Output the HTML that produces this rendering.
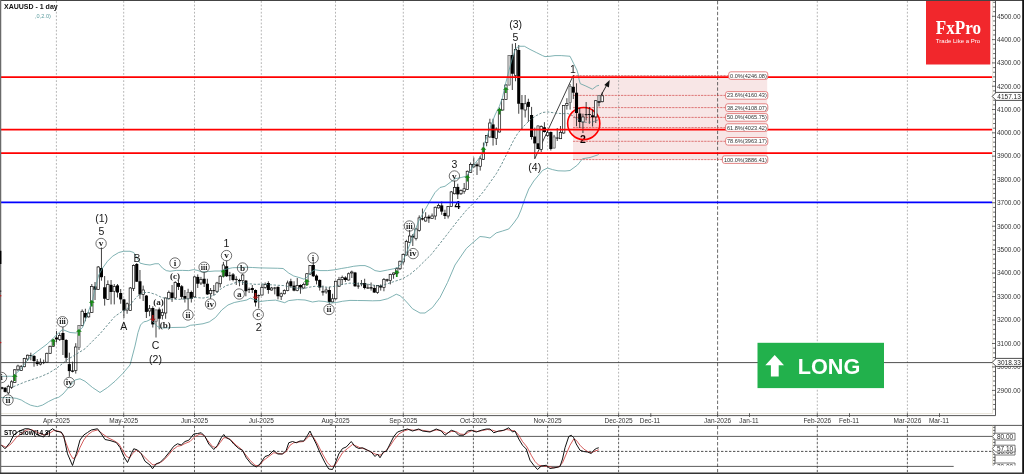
<!DOCTYPE html>
<html lang="en"><head><meta charset="utf-8"><title>XAUUSD - 1 day</title>
<style>html,body{margin:0;padding:0;background:#fff}body{width:1024px;height:474px;overflow:hidden}svg{display:block}text{font-family:"Liberation Sans",Arial,sans-serif;fill:#222}.ax{font-size:6.5px;fill:#333}.dt{font-size:6.5px;fill:#333;text-anchor:middle}.wv{font-size:10.5px;text-anchor:middle;fill:#151515}.cl{font-family:"Liberation Serif","Times New Roman",serif;font-weight:bold;font-size:9.2px;text-anchor:middle;fill:#222}.pl{font-family:"Liberation Serif","Times New Roman",serif;font-weight:bold;font-size:9px;text-anchor:middle;fill:#222}.fb{font-size:5.6px;fill:#333;text-anchor:end}</style></head><body>
<svg width="1024" height="474" viewBox="0 0 1024 474">
<rect width="1024" height="474" fill="#fff"/>
<rect x="573" y="75.6" width="194.2" height="84" fill="#f8e6e6"/>
<g stroke="#a2a2a2" stroke-width="0.8" stroke-dasharray="1.8 1.8" fill="none">
<path d="M56.4 1V414.5"/>
<path d="M123.7 1V414.5"/>
<path d="M194.5 1V414.5"/>
<path d="M261.3 1V414.5"/>
<path d="M335.5 1V414.5"/>
<path d="M403.3 1V414.5"/>
<path d="M473.4 1V414.5"/>
<path d="M547.6 1V414.5"/>
<path d="M618.6 1V414.5"/>
<path d="M817.3 1V414.5"/>
<path d="M907.4 1V414.5"/>
</g>
<g stroke="#3c3c3c" stroke-width="0.8" stroke-dasharray="2.4 1.6" fill="none">
<path d="M56.4 425.8V472.5"/>
<path d="M123.7 425.8V472.5"/>
<path d="M194.5 425.8V472.5"/>
<path d="M261.3 425.8V472.5"/>
<path d="M335.5 425.8V472.5"/>
<path d="M403.3 425.8V472.5"/>
<path d="M473.4 425.8V472.5"/>
<path d="M547.6 425.8V472.5"/>
<path d="M618.6 425.8V472.5"/>
<path d="M817.3 425.8V472.5"/>
<path d="M907.4 425.8V472.5"/>
</g>
<path d="M717.6 1V414.5M717.6 425.8V472.5" stroke="#444" stroke-width="0.8" stroke-dasharray="3.4 2" fill="none"/>
<text class="wv" x="582.8" y="143.2" style="font-weight:bold;fill:#000">2</text>
<text class="wv" x="457.3" y="209" style="font-weight:bold;fill:#000">4</text>
<g stroke="#d24848" stroke-width="0.7" stroke-dasharray="2.3 0.9" fill="none">
<path d="M573 75.6H767.8"/>
<path d="M573 95.4H767.8"/>
<path d="M573 107.6H767.8"/>
<path d="M573 117.4H767.8"/>
<path d="M573 127.6H767.8"/>
<path d="M573 141.3H767.8"/>
<path d="M573 159.6H767.8"/>
</g>
<path d="M534.75 158.75L573 76" stroke="#111" stroke-width="0.8" fill="none"/>
<circle cx="583.75" cy="123.55" r="16.1" fill="rgba(255,0,0,0.10)" stroke="#ff0000" stroke-width="1.6"/>
<g stroke="#111" stroke-width="0.8">
<path d="M1.93 386.8V389.5"/>
<path d="M5.14 387V392.5"/>
<path d="M8.35 384.8V394.4"/>
<path d="M11.56 380.3V388.9"/>
<path d="M14.77 369V383"/>
<path d="M17.98 364.7V371"/>
<path d="M21.19 365V371"/>
<path d="M24.4 357.8V367.3"/>
<path d="M27.61 354.6V361"/>
<path d="M30.82 352.7V360.3"/>
<path d="M34.03 355.2V366.7"/>
<path d="M37.24 359V366"/>
<path d="M40.45 358.4V365.4"/>
<path d="M43.66 359.7V364.1"/>
<path d="M46.87 352.7V362.9"/>
<path d="M50.08 345.7V354"/>
<path d="M53.29 339V347"/>
<path d="M56.5 331V342.5"/>
<path d="M59.71 333V341"/>
<path d="M62.92 327V355"/>
<path d="M66.13 339V362"/>
<path d="M69.34 352.7V376.8"/>
<path d="M72.55 361.6V372.4"/>
<path d="M75.76 343.2V373.6"/>
<path d="M78.97 325V350"/>
<path d="M82.18 309.4V326.25"/>
<path d="M85.39 308.75V321.25"/>
<path d="M88.6 312.5V317.5"/>
<path d="M91.81 284V313"/>
<path d="M95.02 282V300"/>
<path d="M98.23 266V290"/>
<path d="M101.44 247.5V280.7"/>
<path d="M104.65 276V305.6"/>
<path d="M107.86 280.4V300"/>
<path d="M111.07 280V304.4"/>
<path d="M114.28 284V304.4"/>
<path d="M117.49 284V297.5"/>
<path d="M120.7 289V303.75"/>
<path d="M123.91 298.75V318"/>
<path d="M127.12 302.5V313.75"/>
<path d="M130.33 287V311"/>
<path d="M133.54 264.4V291"/>
<path d="M136.75 263V282"/>
<path d="M139.96 270V298.75"/>
<path d="M143.17 285.6V301"/>
<path d="M146.38 295V318"/>
<path d="M149.59 305V316.25"/>
<path d="M152.8 306.25V327.5"/>
<path d="M156.01 309.4V337.5"/>
<path d="M159.22 307.5V329.4"/>
<path d="M162.43 308.75V319.4"/>
<path d="M165.64 297.5V318.75"/>
<path d="M168.85 290.6V299.4"/>
<path d="M172.06 285V301.9"/>
<path d="M175.27 281.25V299"/>
<path d="M178.48 280V290"/>
<path d="M181.69 285V299.4"/>
<path d="M184.9 290V302.5"/>
<path d="M188.11 288.75V309.4"/>
<path d="M191.32 290.6V302.5"/>
<path d="M194.53 276.25V297.5"/>
<path d="M197.74 274.4V288"/>
<path d="M200.95 276.9V285"/>
<path d="M204.16 272V287"/>
<path d="M207.37 278.75V295"/>
<path d="M210.58 288V298.75"/>
<path d="M213.79 285V295.6"/>
<path d="M217 281.9V293"/>
<path d="M220.21 275V287.5"/>
<path d="M223.42 261.9V277.5"/>
<path d="M226.63 260.6V277"/>
<path d="M229.84 271.9V280.6"/>
<path d="M233.05 273V281.25"/>
<path d="M236.26 276.25V285"/>
<path d="M239.47 278.75V286.25"/>
<path d="M242.68 273.75V285"/>
<path d="M245.89 280V296.25"/>
<path d="M249.1 287.5V293"/>
<path d="M252.31 285V293"/>
<path d="M255.52 289.4V306.5"/>
<path d="M258.73 294.5V308.5"/>
<path d="M261.94 283.75V295.6"/>
<path d="M265.15 282.5V288.75"/>
<path d="M268.36 281.25V293.75"/>
<path d="M271.57 286.9V290.6"/>
<path d="M274.78 286.9V294.4"/>
<path d="M277.99 286.25V299.4"/>
<path d="M281.2 292.5V300"/>
<path d="M284.41 289.4V294.4"/>
<path d="M287.62 280.6V291.25"/>
<path d="M290.83 278.75V287.5"/>
<path d="M294.04 281.25V291.25"/>
<path d="M297.25 278V291.25"/>
<path d="M300.46 284.4V293.75"/>
<path d="M303.67 282.5V288.75"/>
<path d="M306.88 273V285.6"/>
<path d="M310.09 265V275"/>
<path d="M313.3 261.25V277"/>
<path d="M316.51 274.4V284.4"/>
<path d="M319.72 279.4V290.6"/>
<path d="M322.93 285.6V295.6"/>
<path d="M326.14 287.5V293.75"/>
<path d="M329.35 286.9V303.75"/>
<path d="M332.56 293.75V302.5"/>
<path d="M335.77 280.6V300"/>
<path d="M338.98 276.9V286.9"/>
<path d="M342.19 275.6V285"/>
<path d="M345.4 276.25V281.9"/>
<path d="M348.61 272.5V280.6"/>
<path d="M351.82 270.6V278"/>
<path d="M355.03 271.9V286.9"/>
<path d="M358.24 282.5V288.75"/>
<path d="M361.45 280V286.25"/>
<path d="M364.66 278.75V289.4"/>
<path d="M367.87 283.75V288.75"/>
<path d="M371.08 282.5V290.6"/>
<path d="M374.29 285V293"/>
<path d="M377.5 285V293.75"/>
<path d="M380.71 284.4V290.6"/>
<path d="M383.92 278V291.25"/>
<path d="M387.13 278.75V281.9"/>
<path d="M390.34 273.75V284.4"/>
<path d="M393.55 272.5V278.75"/>
<path d="M396.76 267.5V274.4"/>
<path d="M399.97 260.6V270"/>
<path d="M403.18 253.75V264.4"/>
<path d="M406.39 239.75V255.5"/>
<path d="M409.6 230V243"/>
<path d="M412.81 234V246"/>
<path d="M416.02 227.9V240.4"/>
<path d="M419.23 215.4V231.6"/>
<path d="M422.44 208.5V220.4"/>
<path d="M425.65 212.25V221.6"/>
<path d="M428.86 214.75V222.9"/>
<path d="M432.07 213.5V219"/>
<path d="M435.28 206.6V219.75"/>
<path d="M438.49 203.5V208.5"/>
<path d="M441.7 201.6V214.75"/>
<path d="M444.91 209.75V219"/>
<path d="M448.12 206V218.5"/>
<path d="M451.33 191V207"/>
<path d="M454.54 180.6V194.4"/>
<path d="M457.75 183.75V199"/>
<path d="M460.96 189.4V195"/>
<path d="M464.17 183V193.75"/>
<path d="M467.38 170.6V190"/>
<path d="M470.59 162.5V173"/>
<path d="M473.8 157.5V167.5"/>
<path d="M477.01 162.5V175"/>
<path d="M480.22 156.25V170.6"/>
<path d="M483.43 142.5V160"/>
<path d="M486.64 135V146.25"/>
<path d="M489.85 118.75V137.5"/>
<path d="M493.06 118.75V145.6"/>
<path d="M496.27 127.3V145"/>
<path d="M499.48 107.5V132.5"/>
<path d="M502.69 98.75V110.6"/>
<path d="M505.9 84V100"/>
<path d="M509.11 55V85.6"/>
<path d="M512.32 43.75V90"/>
<path d="M515.53 43V81.25"/>
<path d="M518.74 45V113.75"/>
<path d="M521.95 95V130"/>
<path d="M525.16 95V117.5"/>
<path d="M528.37 98.75V121.9"/>
<path d="M531.58 106.9V139.6"/>
<path d="M534.79 127.6V158.75"/>
<path d="M538 125V149"/>
<path d="M541.21 125.4V152"/>
<path d="M544.42 122.2V132.7"/>
<path d="M547.63 130V137"/>
<path d="M550.84 131.4V150.5"/>
<path d="M554.05 134.9V148.5"/>
<path d="M557.26 128V141"/>
<path d="M560.47 126V139"/>
<path d="M563.68 105V133.75"/>
<path d="M566.89 98.2V109.6"/>
<path d="M570.1 84V109.6"/>
<path d="M573.31 75.1V99"/>
<path d="M576.52 83.3V126.25"/>
<path d="M579.73 108V128"/>
<path d="M582.94 113.7V133"/>
<path d="M586.15 102V120.5"/>
<path d="M589.36 107V123.8"/>
<path d="M592.57 109.6V126.5"/>
<path d="M595.78 100V123"/>
<path d="M598.99 95V106.4"/>
<path d="M602.2 92.3V102.3"/>
</g>
<g stroke="#111" stroke-width="0.7">
<rect x="0.38" y="387.2" width="3.1" height="1.6" fill="#000" stroke="none"/>
<rect x="3.59" y="387.8" width="3.1" height="4.1" fill="#000" stroke="none"/>
<rect x="7.15" y="386.3" width="2.4" height="6.6" fill="#fff"/>
<rect x="10.36" y="381.8" width="2.4" height="5.5" fill="#fff"/>
<rect x="13.57" y="369.8" width="2.4" height="12.7" fill="#fff"/>
<rect x="16.78" y="366" width="2.4" height="3.8" fill="#fff"/>
<rect x="19.99" y="366.7" width="2.4" height="3.8" fill="#fff"/>
<rect x="23.2" y="358.4" width="2.4" height="8.3" fill="#fff"/>
<rect x="26.41" y="355.2" width="2.4" height="3.8" fill="#fff"/>
<path d="M29.32 355.6H32.32" stroke-width="1"/>
<rect x="32.48" y="355.9" width="3.1" height="5.1" fill="#000" stroke="none"/>
<rect x="35.69" y="361.6" width="3.1" height="2.5" fill="#000" stroke="none"/>
<rect x="39.25" y="362.2" width="2.4" height="1.9" fill="#fff"/>
<path d="M42.16 362.55H45.16" stroke-width="1"/>
<rect x="45.67" y="353.3" width="2.4" height="8.9" fill="#fff"/>
<rect x="48.88" y="346.3" width="2.4" height="7" fill="#fff"/>
<rect x="52.09" y="340" width="2.4" height="6.3" fill="#fff"/>
<rect x="54.95" y="337.5" width="3.1" height="1.9" fill="#000" stroke="none"/>
<rect x="58.51" y="335.6" width="2.4" height="3.8" fill="#fff"/>
<rect x="61.37" y="333" width="3.1" height="7" fill="#000" stroke="none"/>
<rect x="64.58" y="340" width="3.1" height="17.8" fill="#000" stroke="none"/>
<rect x="67.79" y="364.1" width="3.1" height="7" fill="#000" stroke="none"/>
<rect x="71" y="370.5" width="3.1" height="1.2" fill="#000" stroke="none"/>
<rect x="74.56" y="347" width="2.4" height="23.5" fill="#fff"/>
<rect x="77.77" y="325.6" width="2.4" height="21.9" fill="#cfcfcf" stroke="#666"/>
<rect x="80.98" y="311.25" width="2.4" height="14.35" fill="#fff"/>
<rect x="83.84" y="313" width="3.1" height="4.5" fill="#000" stroke="none"/>
<rect x="87.4" y="313" width="2.4" height="3.9" fill="#fff"/>
<rect x="90.61" y="286.4" width="2.4" height="26.1" fill="#fff"/>
<rect x="93.47" y="286.4" width="3.1" height="3.4" fill="#000" stroke="none"/>
<rect x="97.03" y="267" width="2.4" height="22.5" fill="#fff"/>
<rect x="99.89" y="268" width="3.1" height="9.2" fill="#000" stroke="none"/>
<rect x="103.1" y="287.3" width="3.1" height="11.45" fill="#000" stroke="none"/>
<rect x="106.66" y="284.5" width="2.4" height="14.9" fill="#fff"/>
<rect x="109.52" y="284.8" width="3.1" height="7.2" fill="#000" stroke="none"/>
<rect x="113.08" y="286.4" width="2.4" height="4.85" fill="#fff"/>
<rect x="115.94" y="285.4" width="3.1" height="7.1" fill="#000" stroke="none"/>
<rect x="119.15" y="293" width="3.1" height="6.4" fill="#000" stroke="none"/>
<rect x="122.36" y="299.4" width="3.1" height="11.2" fill="#000" stroke="none"/>
<rect x="125.92" y="303.75" width="2.4" height="6.25" fill="#fff"/>
<rect x="129.13" y="288" width="2.4" height="22.6" fill="#fff"/>
<rect x="132.34" y="265.5" width="2.4" height="23" fill="#fff"/>
<rect x="135.2" y="264" width="3.1" height="17.7" fill="#000" stroke="none"/>
<rect x="138.41" y="281.25" width="3.1" height="13.15" fill="#000" stroke="none"/>
<rect x="141.97" y="290" width="2.4" height="4.4" fill="#fff"/>
<rect x="144.83" y="295.6" width="3.1" height="16.3" fill="#000" stroke="none"/>
<rect x="148.39" y="308.75" width="2.4" height="2.25" fill="#fff"/>
<rect x="151.25" y="308" width="3.1" height="16.4" fill="#000" stroke="none"/>
<rect x="154.81" y="310" width="2.4" height="11.25" fill="#cfcfcf" stroke="#666"/>
<rect x="157.67" y="309.4" width="3.1" height="9.35" fill="#000" stroke="none"/>
<rect x="161.23" y="312.5" width="2.4" height="3.1" fill="#fff"/>
<rect x="164.44" y="298" width="2.4" height="15" fill="#fff"/>
<rect x="167.65" y="292.5" width="2.4" height="6.25" fill="#fff"/>
<rect x="170.51" y="292.5" width="3.1" height="5.5" fill="#000" stroke="none"/>
<rect x="174.07" y="282.5" width="2.4" height="15.5" fill="#fff"/>
<rect x="176.93" y="283" width="3.1" height="3.9" fill="#000" stroke="none"/>
<rect x="180.14" y="286.25" width="3.1" height="10.65" fill="#000" stroke="none"/>
<rect x="183.35" y="296" width="3.1" height="2.75" fill="#000" stroke="none"/>
<rect x="186.91" y="292.5" width="2.4" height="6.25" fill="#cfcfcf" stroke="#666"/>
<rect x="189.77" y="292" width="3.1" height="6.75" fill="#000" stroke="none"/>
<rect x="193.33" y="276.9" width="2.4" height="20" fill="#fff"/>
<rect x="196.19" y="276.9" width="3.1" height="6.85" fill="#000" stroke="none"/>
<rect x="199.75" y="279.4" width="2.4" height="3.6" fill="#fff"/>
<rect x="202.61" y="278.75" width="3.1" height="5" fill="#000" stroke="none"/>
<rect x="205.82" y="283.75" width="3.1" height="10.65" fill="#000" stroke="none"/>
<rect x="209.38" y="290.6" width="2.4" height="3.15" fill="#fff"/>
<path d="M212.29 290.65H215.29" stroke-width="1"/>
<rect x="215.8" y="283" width="2.4" height="8.25" fill="#fff"/>
<rect x="219.01" y="276.25" width="2.4" height="7.5" fill="#fff"/>
<rect x="222.22" y="265" width="2.4" height="11.25" fill="#fff"/>
<rect x="225.08" y="266.25" width="3.1" height="10" fill="#000" stroke="none"/>
<path d="M228.34 275.65H231.34" stroke-width="1"/>
<rect x="231.5" y="274.4" width="3.1" height="5.6" fill="#000" stroke="none"/>
<path d="M234.76 279.4H237.76" stroke-width="1"/>
<rect x="237.92" y="280" width="3.1" height="1.25" fill="#000" stroke="none"/>
<rect x="241.48" y="275" width="2.4" height="5.6" fill="#fff"/>
<rect x="244.34" y="280.6" width="3.1" height="10.65" fill="#000" stroke="none"/>
<path d="M247.6 289.4H250.6" stroke-width="1"/>
<rect x="250.76" y="288" width="3.1" height="2" fill="#000" stroke="none"/>
<rect x="253.97" y="290" width="3.1" height="12.5" fill="#000" stroke="none"/>
<path d="M257.23 295.6H260.23" stroke-width="1"/>
<rect x="260.74" y="287.5" width="2.4" height="7.5" fill="#fff"/>
<rect x="263.95" y="284.4" width="2.4" height="3.1" fill="#fff"/>
<rect x="266.81" y="283" width="3.1" height="7" fill="#000" stroke="none"/>
<rect x="270.37" y="288" width="2.4" height="2" fill="#fff"/>
<path d="M273.28 288.05H276.28" stroke-width="1"/>
<rect x="276.44" y="286.9" width="3.1" height="9.35" fill="#000" stroke="none"/>
<rect x="280" y="293.75" width="2.4" height="2.5" fill="#fff"/>
<rect x="283.21" y="290.6" width="2.4" height="3.15" fill="#fff"/>
<rect x="286.42" y="283" width="2.4" height="7.6" fill="#fff"/>
<rect x="289.28" y="281.25" width="3.1" height="5" fill="#000" stroke="none"/>
<rect x="292.49" y="285.6" width="3.1" height="5" fill="#000" stroke="none"/>
<rect x="296.05" y="285.6" width="2.4" height="5" fill="#fff"/>
<rect x="298.91" y="285" width="3.1" height="2.5" fill="#000" stroke="none"/>
<rect x="302.47" y="284.4" width="2.4" height="3.6" fill="#fff"/>
<rect x="305.68" y="273.75" width="2.4" height="10.95" fill="#fff"/>
<rect x="308.89" y="265.6" width="2.4" height="8.4" fill="#fff"/>
<rect x="311.75" y="265" width="3.1" height="11.25" fill="#000" stroke="none"/>
<rect x="314.96" y="275.6" width="3.1" height="5" fill="#000" stroke="none"/>
<rect x="318.17" y="280" width="3.1" height="7.5" fill="#000" stroke="none"/>
<rect x="321.38" y="291.25" width="3.1" height="1.25" fill="#000" stroke="none"/>
<rect x="324.94" y="290" width="2.4" height="1.9" fill="#fff"/>
<rect x="327.8" y="290" width="3.1" height="11.9" fill="#000" stroke="none"/>
<rect x="331.36" y="298.75" width="2.4" height="3.15" fill="#fff"/>
<rect x="334.57" y="281.25" width="2.4" height="17.5" fill="#fff"/>
<rect x="337.78" y="279.4" width="2.4" height="6.85" fill="#fff"/>
<rect x="340.99" y="277.5" width="2.4" height="1.9" fill="#fff"/>
<rect x="343.85" y="277.5" width="3.1" height="2.5" fill="#000" stroke="none"/>
<rect x="347.41" y="273.75" width="2.4" height="6.25" fill="#fff"/>
<rect x="350.62" y="272" width="2.4" height="1" fill="#fff"/>
<rect x="353.48" y="272.5" width="3.1" height="13.75" fill="#000" stroke="none"/>
<rect x="356.69" y="285.6" width="3.1" height="0.9" fill="#000" stroke="none"/>
<path d="M359.95 283.75H362.95" stroke-width="1"/>
<rect x="363.11" y="283" width="3.1" height="5" fill="#000" stroke="none"/>
<rect x="366.32" y="287.5" width="3.1" height="1" fill="#000" stroke="none"/>
<rect x="369.53" y="287.25" width="3.1" height="1.25" fill="#000" stroke="none"/>
<rect x="372.74" y="288" width="3.1" height="4.5" fill="#000" stroke="none"/>
<rect x="376.3" y="285.6" width="2.4" height="6.9" fill="#fff"/>
<rect x="379.16" y="285.6" width="3.1" height="1.9" fill="#000" stroke="none"/>
<rect x="382.72" y="279.4" width="2.4" height="8.1" fill="#fff"/>
<rect x="385.58" y="279.4" width="3.1" height="1.2" fill="#000" stroke="none"/>
<rect x="389.14" y="274.4" width="2.4" height="6.2" fill="#fff"/>
<rect x="392.35" y="273" width="2.4" height="1.4" fill="#fff"/>
<rect x="395.56" y="268.75" width="2.4" height="5" fill="#fff"/>
<rect x="398.77" y="261.25" width="2.4" height="7.5" fill="#fff"/>
<rect x="401.98" y="254.4" width="2.4" height="7.5" fill="#fff"/>
<rect x="405.19" y="241.6" width="2.4" height="13.4" fill="#fff"/>
<rect x="408.4" y="236" width="2.4" height="6.25" fill="#fff"/>
<rect x="411.26" y="235.75" width="3.1" height="1.75" fill="#000" stroke="none"/>
<rect x="414.82" y="229" width="2.4" height="9.5" fill="#fff"/>
<rect x="418.03" y="217.9" width="2.4" height="12.5" fill="#fff"/>
<rect x="420.89" y="218.25" width="3.1" height="1.25" fill="#000" stroke="none"/>
<rect x="424.45" y="217.25" width="2.4" height="3.75" fill="#fff"/>
<rect x="427.31" y="216.6" width="3.1" height="1.9" fill="#000" stroke="none"/>
<rect x="430.87" y="216" width="2.4" height="2.5" fill="#fff"/>
<rect x="434.08" y="207.25" width="2.4" height="8.75" fill="#fff"/>
<rect x="437.29" y="205.4" width="2.4" height="2.5" fill="#fff"/>
<rect x="440.15" y="205.4" width="3.1" height="6.2" fill="#000" stroke="none"/>
<rect x="443.36" y="212.9" width="3.1" height="3.1" fill="#000" stroke="none"/>
<rect x="446.92" y="206.6" width="2.4" height="9.4" fill="#fff"/>
<rect x="450.13" y="191.9" width="2.4" height="14.7" fill="#fff"/>
<rect x="453.34" y="187.5" width="2.4" height="6.25" fill="#fff"/>
<rect x="456.2" y="186.9" width="3.1" height="7.5" fill="#000" stroke="none"/>
<rect x="459.76" y="190.6" width="2.4" height="3.15" fill="#fff"/>
<rect x="462.97" y="188.75" width="2.4" height="2.5" fill="#fff"/>
<rect x="466.18" y="171.25" width="2.4" height="18.15" fill="#fff"/>
<rect x="469.39" y="164.4" width="2.4" height="8.1" fill="#fff"/>
<rect x="472.6" y="164.4" width="2.4" height="2.5" fill="#fff"/>
<rect x="475.46" y="164.4" width="3.1" height="1.85" fill="#000" stroke="none"/>
<rect x="479.02" y="158.75" width="2.4" height="7.5" fill="#fff"/>
<rect x="482.23" y="148" width="2.4" height="11.4" fill="#fff"/>
<rect x="485.44" y="135.6" width="2.4" height="6.9" fill="#fff"/>
<rect x="488.65" y="123" width="2.4" height="14" fill="#fff"/>
<rect x="491.51" y="124.4" width="3.1" height="13.6" fill="#000" stroke="none"/>
<rect x="495.07" y="129" width="2.4" height="9.5" fill="#fff"/>
<rect x="498.28" y="109.4" width="2.4" height="22.6" fill="#fff"/>
<rect x="501.49" y="99.4" width="2.4" height="10.6" fill="#fff"/>
<rect x="504.7" y="85" width="2.4" height="14.4" fill="#fff"/>
<rect x="507.91" y="55.6" width="2.4" height="29.4" fill="#cfcfcf" stroke="#666"/>
<rect x="510.77" y="55" width="3.1" height="18.75" fill="#000" stroke="none"/>
<rect x="514.33" y="49.4" width="2.4" height="26.2" fill="#fff"/>
<rect x="517.19" y="50" width="3.1" height="53.75" fill="#000" stroke="none"/>
<rect x="520.4" y="103" width="3.1" height="6.4" fill="#000" stroke="none"/>
<rect x="523.96" y="103.75" width="2.4" height="6.25" fill="#fff"/>
<rect x="526.82" y="101.9" width="3.1" height="5" fill="#000" stroke="none"/>
<rect x="530.03" y="115" width="3.1" height="22" fill="#000" stroke="none"/>
<rect x="533.24" y="136.5" width="3.1" height="6.9" fill="#000" stroke="none"/>
<rect x="536.8" y="126" width="2.4" height="17.4" fill="#cfcfcf" stroke="#666"/>
<rect x="540.01" y="126.6" width="2.4" height="22.8" fill="#fff"/>
<rect x="542.87" y="127.3" width="3.1" height="4.7" fill="#000" stroke="none"/>
<rect x="546.43" y="132.7" width="2.4" height="2.8" fill="#fff"/>
<rect x="549.29" y="132" width="3.1" height="17" fill="#000" stroke="none"/>
<rect x="552.85" y="137" width="2.4" height="11" fill="#cfcfcf" stroke="#666"/>
<path d="M555.76 138.05H558.76" stroke-width="1"/>
<rect x="559.27" y="132.3" width="2.4" height="6.4" fill="#fff"/>
<rect x="562.48" y="105.4" width="2.4" height="27.6" fill="#fff"/>
<rect x="565.69" y="103.6" width="2.4" height="1.9" fill="#fff"/>
<rect x="568.9" y="86.5" width="2.4" height="16" fill="#cfcfcf" stroke="#666"/>
<rect x="571.76" y="86.8" width="3.1" height="5.9" fill="#000" stroke="none"/>
<rect x="574.97" y="92.7" width="3.1" height="20.3" fill="#000" stroke="none"/>
<rect x="578.18" y="113.5" width="3.1" height="8.5" fill="#000" stroke="none"/>
<rect x="581.74" y="117" width="2.4" height="5" fill="#fff"/>
<path d="M584.65 114.65H587.65" stroke-width="1"/>
<path d="M587.86 114.5H590.86" stroke-width="1"/>
<rect x="591.02" y="115.3" width="3.1" height="1.9" fill="#000" stroke="none"/>
<rect x="594.58" y="100.7" width="2.4" height="16.2" fill="#fff"/>
<rect x="597.79" y="95.4" width="2.4" height="6.6" fill="#cfcfcf" stroke="#666"/>
<rect x="601" y="95.8" width="2.4" height="5.9" fill="#fff"/>
<rect x="536.45" y="143.4" width="3.1" height="5.6" fill="#000" stroke="none"/>
<rect x="597.44" y="101.3" width="3.1" height="1.3" fill="#000" stroke="none"/>
</g>
<path d="M0 376.25 L12.5 376.25 L20 370 L30 357 L37.5 351.25 L47.5 343.75 L53.75 337.5 L62.5 329.5 L70 332.5 L76.25 333 L82.5 327.5 L86.25 317.5 L92.5 300 L95.6 286.25 L98.75 275 L102.5 268.1 L107.5 261.25 L112.5 256.25 L118.75 252.5 L123.75 251.25 L130 251.25 L133.75 252.5 L137.5 258.75 L140 263.1 L145 264.4 L150 265 L155 263.75 L158.75 263.75 L162.5 268.1 L166.25 270.6 L170 271.25 L176.25 270.4 L182.5 270.4 L188.75 270.6 L193.75 269.6 L198 270.5 L201.25 271.9 L208.75 271.5 L215 271 L220 271 L227.5 268.75 L232.5 267.75 L240 267.5 L246.25 267.25 L252.5 267.5 L260 267.9 L270 268.1 L277.5 268.25 L283.1 268.5 L288.75 273.1 L293.75 276 L300 277.75 L304 279.2 L307.5 276.9 L311.25 271.9 L315 269.75 L320 270.6 L327.5 270.6 L335 269.75 L341.25 268.5 L347.5 267.5 L353.75 266.25 L360 265.6 L365 265.6 L370 267.5 L375 270.6 L380 271.5 L387.5 270 L393.75 268.75 L397.5 267.5 L401.25 263.75 L405 256.25 L408 249 L412.5 237.25 L418.75 221 L425 209.75 L430 201 L435 192.5 L440 187.5 L445 186.25 L450 182.5 L455 178.75 L461.25 177.5 L466.25 176.25 L470 171.25 L473.75 165 L478.75 158.75 L482.5 152.5 L485 142 L490 128 L495 115 L499.4 106.25 L502.5 97.5 L505 86 L508.75 71.25 L512.5 57.5 L515.6 48.75 L518.75 46.25 L524.4 46.25 L530 49.4 L536.25 52.5 L542.5 55.6 L545 56.6 L550 56.25 L555 55.6 L561.25 55.6 L570 56.25 L573.75 63.75 L576.9 70 L578.4 75 L579.1 79.8 L580.3 83.7 L585.8 86 L592.4 89.2 L596.7 86 L599 85.3" fill="none" stroke="#5f9ea0" stroke-width="0.8"/>
<path d="M1 397.5 L6.1 397.7 L11.1 397.7 L16.2 398.3 L21.3 400 L25.3 402.5 L30.4 405.1 L34.4 406.1 L37.5 406.6 L42.5 405.1 L48.6 401.5 L54.7 398.5 L58.7 397.3 L63 394 L67.5 388.75 L75 380 L80 378.75 L85 381.25 L92.5 387.5 L100 392.5 L107.5 387.5 L115 381.25 L122.5 373.75 L130 365 L135 346 L138 332.5 L140.5 325 L143.6 321.9 L146.75 321.25 L150.5 319.4 L154.25 323.1 L158 326.9 L163 328.1 L171.75 327.5 L185.5 327.25 L190.5 325.25 L195.5 324.75 L203 323.75 L209.25 321.9 L215.5 317.5 L221.75 310 L228 305 L234.25 302.5 L240.5 301.25 L246.75 300 L250.3 298.1 L254.3 299.6 L259.4 301.6 L267.5 300.6 L275.6 300.1 L284.7 302.7 L288.7 300.6 L297.5 299.6 L305 300 L312.5 302 L318.75 301 L325 301.5 L331 303 L336.25 302.5 L342.5 301.25 L350 300.4 L357.5 300.5 L365 300.6 L372.5 300.8 L380 300.6 L387.5 298.75 L392.5 296.25 L396.25 294.2 L400 295.7 L403.75 299 L407.5 303 L412.5 308.75 L420 313 L425 313 L432.5 307.5 L440 297.5 L447.5 282.5 L455 265 L462.5 254 L466.25 248.6 L471.25 244 L476.25 239.75 L480 236.5 L485 237 L490 238 L496.25 232.9 L502.5 231 L508.75 229 L513.75 223 L518 217 L521 210 L525 198.5 L528.75 189 L533.75 181 L538.75 175 L542.5 170.5 L547.5 168 L552.5 169.6 L558 170.8 L565 171 L570 170.5 L577.5 165 L582.5 158.75 L590 157.5 L597.5 155 L600 153" fill="none" stroke="#5f9ea0" stroke-width="0.8"/>
<path d="M13.2 386.8 L25.3 381.8 L40.5 376.7 L48.6 373.2 L56.7 368.1 L63 363.2 L67.5 359.5 L75 355 L85 348.75 L100 333.75 L107.5 325 L115 316.25 L122.5 311.25 L128 308 L133 301.25 L138 295.6 L143 292.5 L149.25 292.5 L155.5 294.4 L161.75 297.5 L169.25 299 L178 299.4 L186.75 299 L195.5 297.5 L203 298.1 L209.25 296.9 L215.5 294.4 L220 289.5 L226.25 285.6 L232.5 283.75 L237.5 281.9 L243.75 282.5 L248.75 283.75 L256.25 284.4 L262.5 284 L270 284.75 L277.5 285.25 L283.75 285.6 L290 286.9 L296.25 288.1 L302.5 288.9 L308.75 287.3 L315 286.3 L320 286.5 L327.5 287.25 L335 286.25 L342.5 284.4 L350 283.1 L357.5 283.75 L365 284 L372.5 285 L380 286.25 L387.5 283.75 L395 281.25 L402.5 278.75 L410 274.4 L417.5 268.1 L425 260.6 L431.25 254.5 L440 243.5 L448.75 232.25 L457.5 221 L466.25 210.4 L475 201.6 L483.75 191.25 L490 182.5 L496.25 173.75 L501.25 165 L506.25 155 L510 147.5 L513.75 140 L517.5 133.75 L523.75 126.25 L530 120 L536.25 115.6 L542.5 112.5 L547.75 111.9 L555 113 L562.5 113.75 L567.4 113.4 L572.5 115.6 L577 118.8 L582.6 122 L587.6 122.3 L592.7 122 L597.8 120" fill="none" stroke="#4a7678" stroke-width="0.8" stroke-dasharray="2.4 1.6"/>
<path d="M14.77 374L17.67 376.8H15.62V381H13.92V376.8H11.87Z" fill="#158a15"/>
<path d="M53.29 338.8L56.19 341.6H54.14V345.8H52.44V341.6H50.39Z" fill="#158a15"/>
<path d="M78.97 329L81.87 331.8H79.82V335.8H78.12V331.8H76.07Z" fill="#158a15"/>
<path d="M91.81 300L94.71 302.8H92.66V306.5H90.96V302.8H88.91Z" fill="#158a15"/>
<path d="M223.42 269.5L226.32 272.3H224.27V276.5H222.57V272.3H220.52Z" fill="#158a15"/>
<path d="M306.88 279L309.78 281.8H307.73V285.5H306.03V281.8H303.98Z" fill="#158a15"/>
<path d="M396.76 270L399.66 272.8H397.61V277H395.91V272.8H393.86Z" fill="#158a15"/>
<path d="M467.38 175L470.28 177.8H468.23V181.5H466.53V177.8H464.48Z" fill="#158a15"/>
<path d="M483.43 147L486.33 149.8H484.28V153H482.58V149.8H480.53Z" fill="#158a15"/>
<path d="M499.48 108L502.38 110.8H500.33V114.5H498.63V110.8H496.58Z" fill="#158a15"/>
<path d="M505.9 87L508.8 89.8H506.75V93H505.05V89.8H503Z" fill="#158a15"/>
<path d="M152.8 321.5L155.7 318.7H153.65V315H151.95V318.7H149.9Z" fill="#a01515"/>
<path d="M255.52 299.5L258.42 296.7H256.37V293H254.67V296.7H252.62Z" fill="#a01515"/>
<path d="M1 362.6H992.2" stroke="#222" stroke-width="0.8"/>
<path d="M1 202.3H992.2" stroke="#0000ff" stroke-width="1.7"/>
<path d="M1 77.2H992.2" stroke="#ff0000" stroke-width="1.7"/>
<path d="M1 129.6H992.2" stroke="#ff0000" stroke-width="1.7"/>
<path d="M1 153.2H992.2" stroke="#ff0000" stroke-width="1.7"/>
<path d="M601 95.4L607.2 84.2" stroke="#111" stroke-width="0.9" fill="none"/>
<path d="M609.7 79.9L608.9 87.4L604.3 84.9Z" fill="#111"/>
<text class="wv" x="515.6" y="27.8">(3)</text>
<text class="wv" x="515.5" y="40.5">5</text>
<text class="wv" x="101.65" y="222.4">(1)</text>
<text class="wv" x="101.4" y="234.75">5</text>
<text class="wv" x="136.9" y="261.6">B</text>
<text class="wv" x="123.75" y="329.5">A</text>
<text class="wv" x="155.5" y="349.2">C</text>
<text class="wv" x="155.5" y="362.5">(2)</text>
<text class="wv" x="226.5" y="246.5">1</text>
<text class="wv" x="258.75" y="330.7">2</text>
<text class="wv" x="454.4" y="167.5">3</text>
<text class="wv" x="534.75" y="170.6">(4)</text>
<text class="wv" x="572.9" y="72.5">1</text>
<circle cx="101.1" cy="243.5" r="5.2" fill="none" stroke="#333" stroke-width="0.7"/>
<text class="cl" x="101.1" y="246" style="font-size:9.2px">v</text>
<circle cx="62.5" cy="321.75" r="5.2" fill="none" stroke="#333" stroke-width="0.7"/>
<text class="cl" x="62.5" y="324.25" style="font-size:8px">iii</text>
<circle cx="69.25" cy="382.5" r="5.2" fill="none" stroke="#333" stroke-width="0.7"/>
<text class="cl" x="69.25" y="385" style="font-size:9px">iv</text>
<circle cx="8" cy="400" r="5.2" fill="none" stroke="#333" stroke-width="0.7"/>
<text class="cl" x="8" y="402.5" style="font-size:9px">ii</text>
<circle cx="1.5" cy="377.5" r="5.2" fill="none" stroke="#333" stroke-width="0.7"/>
<text class="cl" x="1.5" y="380" style="font-size:9.2px">i</text>
<circle cx="175" cy="263" r="5.2" fill="none" stroke="#333" stroke-width="0.7"/>
<text class="cl" x="175" y="265.5" style="font-size:9.2px">i</text>
<circle cx="188" cy="315" r="5.2" fill="none" stroke="#333" stroke-width="0.7"/>
<text class="cl" x="188" y="317.5" style="font-size:9px">ii</text>
<circle cx="204.1" cy="267.25" r="5.2" fill="none" stroke="#333" stroke-width="0.7"/>
<text class="cl" x="204.1" y="269.75" style="font-size:8px">iii</text>
<circle cx="210.5" cy="304" r="5.2" fill="none" stroke="#333" stroke-width="0.7"/>
<text class="cl" x="210.5" y="306.5" style="font-size:9px">iv</text>
<circle cx="226.5" cy="255.6" r="5.2" fill="none" stroke="#333" stroke-width="0.7"/>
<text class="cl" x="226.5" y="258.1" style="font-size:9.2px">v</text>
<circle cx="239.2" cy="294" r="5.2" fill="none" stroke="#333" stroke-width="0.7"/>
<text class="cl" x="239.2" y="296.5" style="font-size:9.2px">a</text>
<circle cx="242.5" cy="268" r="5.2" fill="none" stroke="#333" stroke-width="0.7"/>
<text class="cl" x="242.5" y="270.5" style="font-size:9.2px">b</text>
<circle cx="258.25" cy="314.5" r="5.2" fill="none" stroke="#333" stroke-width="0.7"/>
<text class="cl" x="258.25" y="317" style="font-size:9.2px">c</text>
<circle cx="313.1" cy="258" r="5.2" fill="none" stroke="#333" stroke-width="0.7"/>
<text class="cl" x="313.1" y="260.5" style="font-size:9.2px">i</text>
<circle cx="329" cy="309.5" r="5.2" fill="none" stroke="#333" stroke-width="0.7"/>
<text class="cl" x="329" y="312" style="font-size:9px">ii</text>
<circle cx="409.4" cy="226" r="5.2" fill="none" stroke="#333" stroke-width="0.7"/>
<text class="cl" x="409.4" y="228.5" style="font-size:8px">iii</text>
<circle cx="413.1" cy="253.6" r="5.2" fill="none" stroke="#333" stroke-width="0.7"/>
<text class="cl" x="413.1" y="256.1" style="font-size:9px">iv</text>
<circle cx="454.4" cy="176" r="5.2" fill="none" stroke="#333" stroke-width="0.7"/>
<text class="cl" x="454.4" y="178.5" style="font-size:9.2px">v</text>
<text class="pl" x="158.5" y="304.6">(a)</text>
<text class="pl" x="165.3" y="327.6">(b)</text>
<text class="pl" x="175" y="278.6">(c)</text>
<rect x="728.7" y="71.8" width="39.1" height="7.6" rx="2.2" fill="#fff" stroke="#dc6464" stroke-width="0.8"/>
<text class="fb" x="766.8" y="77.6">0.0%(4246.08)</text>
<rect x="725.6" y="91.6" width="42.2" height="7.6" rx="2.2" fill="#fff" stroke="#dc6464" stroke-width="0.8"/>
<text class="fb" x="766.8" y="97.4">23.6%(4160.43)</text>
<rect x="725.6" y="103.8" width="42.2" height="7.6" rx="2.2" fill="#fff" stroke="#dc6464" stroke-width="0.8"/>
<text class="fb" x="766.8" y="109.6">38.2%(4108.07)</text>
<rect x="725.6" y="113.6" width="42.2" height="7.6" rx="2.2" fill="#fff" stroke="#dc6464" stroke-width="0.8"/>
<text class="fb" x="766.8" y="119.4">50.0%(4065.75)</text>
<rect x="725.6" y="123.8" width="42.2" height="7.6" rx="2.2" fill="#fff" stroke="#dc6464" stroke-width="0.8"/>
<text class="fb" x="766.8" y="129.6">61.8%(4023.42)</text>
<rect x="725.6" y="137.5" width="42.2" height="7.6" rx="2.2" fill="#fff" stroke="#dc6464" stroke-width="0.8"/>
<text class="fb" x="766.8" y="143.3">78.6%(3963.17)</text>
<rect x="722.4" y="155.8" width="45.4" height="7.6" rx="2.2" fill="#fff" stroke="#dc6464" stroke-width="0.8"/>
<text class="fb" x="766.8" y="161.6">100.0%(3886.41)</text>
<rect x="757.5" y="342.8" width="126.5" height="45.3" fill="#22b14c"/>
<path d="M774.7 355L784 365.2H778.7V376.6H770.9V365.2H765.3Z" fill="#fff"/>
<text x="797.7" y="373.7" textLength="62.6" lengthAdjust="spacingAndGlyphs" style="font-size:21.8px;font-weight:bold;fill:#fff">LONG</text>
<rect x="926" y="0" width="64.3" height="64.5" fill="#f1272c"/>
<text x="958.4" y="34.4" textLength="45.2" lengthAdjust="spacingAndGlyphs" style="font-family:'Liberation Serif','Times New Roman',serif;font-weight:bold;font-size:18.5px;fill:#fff;text-anchor:middle">FxPro</text>
<text x="958" y="42.7" textLength="44.4" lengthAdjust="spacingAndGlyphs" style="font-size:6.2px;fill:#fff;text-anchor:middle">Trade Like a Pro</text>
<text x="4" y="8.9" style="font-size:7px;font-weight:bold;fill:#111">XAUUSD - 1 day</text>
<text x="35" y="18.4" style="font-size:5.6px;fill:#5f9ea0">,0,2.0)</text>
<path d="M1 413.6H992.6V1" stroke="#dedacb" stroke-width="0.7" fill="none"/>
<path d="M1 415.6H995.5V1" stroke="#444" stroke-width="0.9" fill="none"/>
<g stroke="#444" stroke-width="0.8">
<path d="M993.1 2.32H995.5"/>
<path d="M993.1 6.98H995.5"/>
<path d="M993.1 11.64H995.5"/>
<path d="M992 16.3H995.5"/>
<path d="M993.1 20.96H995.5"/>
<path d="M993.1 25.62H995.5"/>
<path d="M993.1 30.28H995.5"/>
<path d="M993.1 34.95H995.5"/>
<path d="M992 39.61H995.5"/>
<path d="M993.1 44.27H995.5"/>
<path d="M993.1 48.93H995.5"/>
<path d="M993.1 53.59H995.5"/>
<path d="M993.1 58.25H995.5"/>
<path d="M992 62.92H995.5"/>
<path d="M993.1 67.58H995.5"/>
<path d="M993.1 72.24H995.5"/>
<path d="M993.1 76.9H995.5"/>
<path d="M993.1 81.56H995.5"/>
<path d="M992 86.22H995.5"/>
<path d="M993.1 90.89H995.5"/>
<path d="M993.1 95.55H995.5"/>
<path d="M993.1 100.21H995.5"/>
<path d="M993.1 104.87H995.5"/>
<path d="M992 109.53H995.5"/>
<path d="M993.1 114.19H995.5"/>
<path d="M993.1 118.86H995.5"/>
<path d="M993.1 123.52H995.5"/>
<path d="M993.1 128.18H995.5"/>
<path d="M992 132.84H995.5"/>
<path d="M993.1 137.5H995.5"/>
<path d="M993.1 142.16H995.5"/>
<path d="M993.1 146.82H995.5"/>
<path d="M993.1 151.49H995.5"/>
<path d="M992 156.15H995.5"/>
<path d="M993.1 160.81H995.5"/>
<path d="M993.1 165.47H995.5"/>
<path d="M993.1 170.13H995.5"/>
<path d="M993.1 174.79H995.5"/>
<path d="M992 179.46H995.5"/>
<path d="M993.1 184.12H995.5"/>
<path d="M993.1 188.78H995.5"/>
<path d="M993.1 193.44H995.5"/>
<path d="M993.1 198.1H995.5"/>
<path d="M992 202.76H995.5"/>
<path d="M993.1 207.45H995.5"/>
<path d="M993.1 212.14H995.5"/>
<path d="M993.1 216.83H995.5"/>
<path d="M993.1 221.52H995.5"/>
<path d="M992 226.22H995.5"/>
<path d="M993.1 230.91H995.5"/>
<path d="M993.1 235.6H995.5"/>
<path d="M993.1 240.29H995.5"/>
<path d="M993.1 244.98H995.5"/>
<path d="M992 249.67H995.5"/>
<path d="M993.1 254.36H995.5"/>
<path d="M993.1 259.05H995.5"/>
<path d="M993.1 263.74H995.5"/>
<path d="M993.1 268.43H995.5"/>
<path d="M992 273.12H995.5"/>
<path d="M993.1 277.82H995.5"/>
<path d="M993.1 282.51H995.5"/>
<path d="M993.1 287.2H995.5"/>
<path d="M993.1 291.89H995.5"/>
<path d="M992 296.58H995.5"/>
<path d="M993.1 301.27H995.5"/>
<path d="M993.1 305.96H995.5"/>
<path d="M993.1 310.65H995.5"/>
<path d="M993.1 315.34H995.5"/>
<path d="M992 320.03H995.5"/>
<path d="M993.1 324.73H995.5"/>
<path d="M993.1 329.42H995.5"/>
<path d="M993.1 334.11H995.5"/>
<path d="M993.1 338.8H995.5"/>
<path d="M992 343.49H995.5"/>
<path d="M993.1 348.18H995.5"/>
<path d="M993.1 352.87H995.5"/>
<path d="M993.1 357.56H995.5"/>
<path d="M993.1 362.25H995.5"/>
<path d="M992 366.94H995.5"/>
<path d="M993.1 371.64H995.5"/>
<path d="M993.1 376.33H995.5"/>
<path d="M993.1 381.02H995.5"/>
<path d="M993.1 385.71H995.5"/>
<path d="M992 390.4H995.5"/>
<path d="M993.1 395.09H995.5"/>
<path d="M993.1 399.78H995.5"/>
<path d="M993.1 404.47H995.5"/>
<path d="M993.1 409.16H995.5"/>
</g>
<text class="ax" x="997" y="18.6">4500.00</text>
<text class="ax" x="997" y="41.91">4400.00</text>
<text class="ax" x="997" y="65.22">4300.00</text>
<text class="ax" x="997" y="88.52">4200.00</text>
<text class="ax" x="997" y="111.83">4100.00</text>
<text class="ax" x="997" y="135.14">4000.00</text>
<text class="ax" x="997" y="158.45">3900.00</text>
<text class="ax" x="997" y="181.76">3800.00</text>
<text class="ax" x="997" y="205.06">3700.00</text>
<text class="ax" x="997" y="228.52">3600.00</text>
<text class="ax" x="997" y="251.97">3500.00</text>
<text class="ax" x="997" y="275.43">3400.00</text>
<text class="ax" x="997" y="298.88">3300.00</text>
<text class="ax" x="997" y="322.33">3200.00</text>
<text class="ax" x="997" y="345.79">3100.00</text>
<text class="ax" x="997" y="369.25">3000.00</text>
<text class="ax" x="997" y="392.7">2900.00</text>
<path d="M992.2 96.4L996.1 92.4H1022.8V100.4H996.1Z" fill="#fff" stroke="#3a3a3a" stroke-width="0.9"/>
<text class="ax" x="997.3" y="98.7" style="fill:#222">4157.13</text>
<path d="M992.2 362.4L996.1 358.4H1022.8V366.4H996.1Z" fill="#fff" stroke="#3a3a3a" stroke-width="0.9"/>
<text class="ax" x="997.3" y="364.7" style="fill:#222">3018.33</text>
<g stroke="#444" stroke-width="0.8">
<path d="M56.4 413.2V417"/>
<path d="M123.7 413.2V417"/>
<path d="M194.5 413.2V417"/>
<path d="M261.3 413.2V417"/>
<path d="M335.5 413.2V417"/>
<path d="M403.3 413.2V417"/>
<path d="M473.4 413.2V417"/>
<path d="M547.6 413.2V417"/>
<path d="M618.6 413.2V417"/>
<path d="M717.6 413.2V417"/>
<path d="M817.3 413.2V417"/>
<path d="M907.4 413.2V417"/>
<path d="M650.8 413.2V417"/>
<path d="M749.5 413.2V417"/>
<path d="M849.5 413.2V417"/>
<path d="M939.5 413.2V417"/>
</g>
<text class="dt" x="56.4" y="423">Apr-2025</text>
<text class="dt" x="123.7" y="423">May-2025</text>
<text class="dt" x="194.5" y="423">Jun-2025</text>
<text class="dt" x="261.3" y="423">Jul-2025</text>
<text class="dt" x="335.5" y="423">Aug-2025</text>
<text class="dt" x="403.3" y="423">Sep-2025</text>
<text class="dt" x="473.4" y="423">Oct-2025</text>
<text class="dt" x="547.6" y="423">Nov-2025</text>
<text class="dt" x="618.6" y="423">Dec-2025</text>
<text class="dt" x="650" y="423">Dec-11</text>
<text class="dt" x="717.6" y="423">Jan-2026</text>
<text class="dt" x="749" y="423">Jan-11</text>
<text class="dt" x="817.3" y="423">Feb-2026</text>
<text class="dt" x="849" y="423">Feb-11</text>
<text class="dt" x="907.4" y="423">Mar-2026</text>
<text class="dt" x="939" y="423">Mar-11</text>
<path d="M1 425.4H1022" stroke="#444" stroke-width="0.9"/>
<path d="M1 436.4H994" stroke="#333" stroke-width="0.8"/>
<path d="M1 466.4H953.7" stroke="#333" stroke-width="0.8"/>
<path d="M1 451.4H994" stroke="#222" stroke-width="0.8" stroke-dasharray="2.4 1.6"/>
<path d="M1.25 445 L6.25 447.5 L11.25 443.75 L16.25 437.5 L21.25 433.75 L26.25 430 L31.25 429.5 L37.5 432.5 L43.75 435 L48.75 433.75 L53.75 430.5 L58.75 431.25 L62.5 433.75 L66.25 443.75 L70 453.75 L73 458.75 L76.25 456.25 L80 447.5 L83.75 440 L87.5 435 L92.5 431.25 L97.5 430 L102.5 433.75 L107.5 437.5 L113.75 440.5 L118.75 443.75 L122.5 450 L126.25 456.25 L129.5 458 L132.5 453.75 L136.25 450 L140 452.5 L145 457.5 L150 462.5 L153 465 L157.5 463.75 L162.5 461.25 L167.5 456.25 L172.5 450 L177.5 446.25 L181.25 445.5 L185 443.5 L190 441.5 L195 436.5 L200 434 L203.75 435.25 L207.5 440.25 L212.5 446.5 L216.25 447.75 L220 442.75 L223.75 437.75 L227.5 437.75 L231.25 440.25 L236.25 445.25 L241.25 449 L245 454 L250 460.25 L255 465.25 L258.75 466 L263.75 460.25 L268.75 456.5 L273.75 452.75 L278.75 453.5 L282.5 454 L286.25 451.5 L290 445.25 L293.75 442.75 L298.75 442 L303.75 441.5 L307.5 437.75 L310.5 434 L313.75 437.75 L317.5 444 L322.5 454 L327.5 462.75 L331.25 466.5 L334.5 466 L338.75 459 L342.5 452.75 L347.5 448.5 L352.5 444.5 L356.25 446 L360 447.75 L365 449 L370 451.5 L375 454 L380 455.25 L383.75 452.75 L387.5 449 L390 446 L393.75 440.25 L398.75 434 L403.75 431 L408.75 429.5 L413.75 430.25 L418.75 429.75 L423.75 430.5 L430 431.5 L436.25 430 L441.25 430.5 L446.25 433.5 L451.25 431.5 L456.25 431.5 L460 434 L465 434.5 L468.75 432 L472.5 430.5 L477.5 431.5 L482.5 430.5 L487.5 429.5 L492.5 430.25 L496.25 431.5 L501.25 431 L506.25 429.5 L511.25 430.25 L515 431 L518.75 435.25 L522.5 441.5 L527 447 L531.25 455.25 L535 461.5 L538.75 465.25 L543.75 466 L548.75 466.5 L553.75 467.75 L558.75 467 L562.5 462.75 L566.25 454 L570 445.25 L573.75 439 L576.25 440.25 L580 445.25 L583.75 449 L587.5 451.5 L591.25 452.75 L595 451 L598.75 449.75" fill="none" stroke="#c83232" stroke-width="0.8"/>
<path d="M1.25 445 L5 448.75 L10 442.5 L13.75 435 L18.75 431.25 L25 428.75 L28.75 428.75 L33.75 431.25 L37.5 435 L43.75 437 L47.5 432.5 L52.5 428.75 L56.25 431.25 L61.25 432 L63.75 436.25 L67.5 453.75 L72.5 465.5 L76.25 453.75 L80 440 L83.75 435 L87.5 432.5 L91.25 430 L97.5 428.75 L101.25 433.75 L105 439.5 L110 440.5 L116.25 442.5 L120 447.5 L123.75 456.25 L127.5 462.5 L131.25 453.75 L133.75 448.75 L137.5 450 L141.25 453.75 L145 461.25 L150 465 L152.5 468.75 L156.25 463.75 L160 462.5 L165 457.5 L170 451.25 L173.75 446.25 L177.5 443.75 L181.25 445 L185 441.5 L188.75 440.25 L193.75 434 L197.5 433.5 L201.25 432.75 L205 436.5 L208.75 444 L213.75 449.5 L217.5 445.25 L221.25 437.75 L223.75 434.5 L226.25 437.75 L230 439.5 L233.75 444 L238.75 448.5 L242.5 450.25 L246.25 457.75 L251.25 464 L256.25 467 L260 464 L265 456.5 L268.75 455.25 L273.75 450.25 L277.5 454 L282.5 454 L286.25 450.25 L288.75 442.75 L292.5 441.5 L296.25 442.75 L300 441 L303.75 441 L307.5 435.25 L310 431 L312.5 436.5 L316.25 444 L320 452.75 L325 462.75 L328.75 469 L332.5 469.5 L335 464 L338.75 454 L342.5 448.5 L346.25 447 L351.25 441.5 L355 446.5 L358.75 448.5 L362.5 447.75 L367.5 450.25 L371.25 452 L375 456.5 L377.5 454 L380 457.75 L383.75 451.5 L386.25 451.5 L390 444 L393.75 436.5 L397.5 432 L402.5 430.25 L407.5 429 L412.5 431 L418.75 429 L422.5 431 L430 432 L436.25 429 L441.25 431 L445 435.25 L451.25 430.25 L455 431.5 L458.75 435.25 L463.75 435.25 L467.5 431 L471.25 430.25 L476.25 432 L481.25 430.25 L486.25 429 L490 429 L493.75 432.75 L498.75 431 L503.75 430.25 L508.75 427.75 L512.5 432 L515 431 L518.75 439 L522.5 445.25 L526.25 449 L530 460.25 L533.75 465.25 L537.5 469.5 L541.25 466 L546.25 465.25 L550 468.5 L555 467.75 L560 466.5 L562.5 459 L565 447.75 L568.75 436.5 L571.25 435.25 L573.75 437.75 L576.25 444 L580 450.25 L583.75 451.5 L587.5 452 L591.25 453.5 L593.75 450.25 L596.25 448.5 L598.75 447.75" fill="none" stroke="#111" stroke-width="1"/>
<text x="4" y="434.8" style="font-size:6.4px;font-weight:bold;fill:#000">STO Slow(14,3)</text>
<path d="M992.6 425.8V465.4" stroke="#d8d4c4" stroke-width="0.9"/>
<path d="M995 425.8V433.2M995 440V445.2M995 455V463" stroke="#444" stroke-width="0.9"/>
<g stroke="#444" stroke-width="0.8">
<path d="M993.1 427.4H995"/>
<path d="M993.1 430.4H995"/>
<path d="M993.1 433.4H995"/>
<path d="M993.1 436.4H995"/>
<path d="M993.1 439.4H995"/>
<path d="M993.1 442.4H995"/>
<path d="M993.1 445.4H995"/>
<path d="M993.1 448.4H995"/>
<path d="M993.1 451.4H995"/>
<path d="M993.1 454.4H995"/>
<path d="M993.1 457.4H995"/>
<path d="M993.1 460.4H995"/>
<path d="M993.1 463.4H995"/>
</g>
<clipPath id="sc"><rect x="990" y="425" width="32" height="40.4"/></clipPath>
<g clip-path="url(#sc)">
<path d="M992.4 466.4L995.6 463H1015V469.8H995.6Z" fill="#fff" stroke="#555" stroke-width="0.8"/>
<text class="ax" x="996.9" y="468.7" style="fill:#222">20.00</text>
<path d="M992.4 451.6L995.6 448.2H1015V455H995.6Z" fill="#fff" stroke="#555" stroke-width="0.8"/>
<text class="ax" x="996.9" y="453.9" style="fill:#222">50.00</text>
<path d="M992.4 448.6L995.6 445.2H1015V452H995.6Z" fill="#fff" stroke="#555" stroke-width="0.8"/>
<text class="ax" x="996.9" y="450.9" style="fill:#222">57.10</text>
<path d="M992.4 436.6L995.6 433.2H1015V440H995.6Z" fill="#fff" stroke="#555" stroke-width="0.8"/>
<text class="ax" x="996.9" y="438.9" style="fill:#222">80.00</text>
</g>
<path d="M0 0.5H1024" stroke="#444" stroke-width="1"/>
<path d="M0.6 0V474" stroke="#6a6a6a" stroke-width="1.3"/>
<rect x="0" y="250.8" width="1.4" height="13.2" fill="#000"/>
<rect x="0" y="295.1" width="1.3" height="1.3" fill="#c01818"/>
<rect x="0" y="341.9" width="1.3" height="1.3" fill="#c01818"/>
<rect x="0" y="290.6" width="1.3" height="1.1" fill="#222"/>
<path d="M1023.1 0V474" stroke="#111" stroke-width="1.8"/>
<path d="M0 473.3H1024" stroke="#333" stroke-width="1.5"/>
</svg></body></html>
